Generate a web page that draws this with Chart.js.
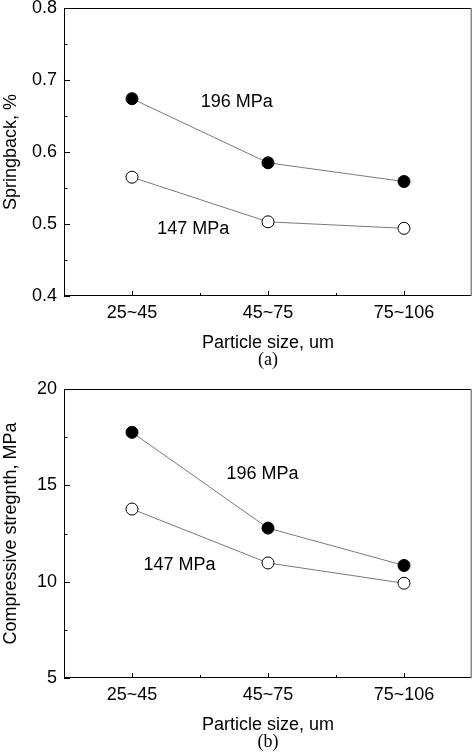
<!DOCTYPE html>
<html>
<head>
<meta charset="utf-8">
<script src="https://cdn.jsdelivr.net/npm/chart.js@4/dist/chart.umd.min.js"></script>
<style>
  html, body { margin: 0; padding: 0; background: #fff; }
  #wrap { position: relative; width: 473px; height: 753px; }
  #c1 { position: absolute; left: 0; top: 0; }
  #c2 { position: absolute; left: 0; top: 380px; }
</style>
</head>
<body>
<div id="wrap">
  <canvas id="c1" width="473" height="380"></canvas>
  <canvas id="c2" width="473" height="373"></canvas>
</div>
<script>
// ---- data ----
const categories = ['25~45', '45~75', '75~106'];
const seriesNames = ['196 MPa', '147 MPa'];
const springback196 = [0.674, 0.585, 0.559];
const springback147 = [0.565, 0.503, 0.494];
const strength196 = [17.75, 12.78, 10.84];
const strength147 = [13.77, 10.97, 9.92];
const springbackTicks = [0.4, 0.5, 0.6, 0.7, 0.8];
const strengthTicks = [5, 10, 15, 20];

// ---- label placement (in data units) ----
const springbackNotes = [
  { text: seriesNames[0], x: 0.77, y: 0.670 },
  { text: seriesNames[1], x: 0.45, y: 0.493 }
];
const strengthNotes = [
  { text: seriesNames[0], x: 0.96, y: 15.61 },
  { text: seriesNames[1], x: 0.35, y: 10.84 }
];

const SANS = '"Liberation Sans", Arial, Helvetica, sans-serif';
const SERIF = '"Liberation Serif", "Times New Roman", serif';

const framePlugin = {
  id: 'frame',
  afterDraw(chart, args, opts) {
    const { ctx, chartArea: a, scales } = chart;
    const xs = scales.x, ys = scales.y;
    ctx.save();
    ctx.lineWidth = 1;
    ctx.strokeStyle = '#000';
    ctx.beginPath();
    ctx.moveTo(a.left + 0.5, a.top + 0.5);
    ctx.lineTo(a.right, a.top + 0.5);
    ctx.moveTo(a.left + 0.5, a.top);
    ctx.lineTo(a.left + 0.5, a.bottom);
    ctx.moveTo(a.left, a.bottom - 0.5);
    ctx.lineTo(a.right, a.bottom - 0.5);
    const yt = opts.yTicks;
    for (let i = 0; i < yt.length; i++) {
      const py = Math.round(ys.getPixelForValue(yt[i])) + 0.5;
      ctx.moveTo(a.left, py); ctx.lineTo(a.left + 6, py);
      if (i < yt.length - 1) {
        const pm = Math.round(ys.getPixelForValue((yt[i] + yt[i + 1]) / 2)) + 0.5;
        ctx.moveTo(a.left, pm); ctx.lineTo(a.left + 3.5, pm);
      }
    }
    for (let i = 0; i < categories.length; i++) {
      const px = Math.round(xs.getPixelForValue(i)) + 0.5;
      ctx.moveTo(px, a.bottom); ctx.lineTo(px, a.bottom - 5);
      if (i < categories.length - 1) {
        const pm = Math.round(xs.getPixelForValue(i + 0.5)) + 0.5;
        ctx.moveTo(pm, a.bottom); ctx.lineTo(pm, a.bottom - 3);
      }
    }
    ctx.stroke();
    ctx.strokeStyle = '#8a8a8a';
    ctx.lineWidth = 1.5;
    ctx.beginPath();
    ctx.moveTo(a.right - 0.75, a.top);
    ctx.lineTo(a.right - 0.75, a.bottom);
    ctx.stroke();
    ctx.fillStyle = '#000';
    ctx.font = '18px ' + SANS;
    ctx.textAlign = 'center';
    ctx.textBaseline = 'middle';
    for (const n of opts.notes) {
      ctx.fillText(n.text, xs.getPixelForValue(n.x), ys.getPixelForValue(n.y));
    }
    ctx.restore();
  }
};

function makeChart(canvasId, s196, s147, yTicks, yTitle, tag, notes, padTop, tagPadBottom) {
  const yMin = yTicks[0], yMax = yTicks[yTicks.length - 1];
  const step = yTicks[1] - yTicks[0];
  return new Chart(document.getElementById(canvasId), {
    type: 'line',
    data: {
      labels: categories,
      datasets: [
        {
          label: seriesNames[0], data: s196,
          borderColor: '#7a7a7a', borderWidth: 1, tension: 0,
          pointRadius: 6, pointHoverRadius: 6, pointBorderWidth: 1,
          pointBorderColor: '#000', pointBackgroundColor: '#000'
        },
        {
          label: seriesNames[1], data: s147,
          borderColor: '#7a7a7a', borderWidth: 1, tension: 0,
          pointRadius: 6, pointHoverRadius: 6, pointBorderWidth: 1,
          pointBorderColor: '#000', pointBackgroundColor: '#fff'
        }
      ]
    },
    options: {
      responsive: false,
      animation: false,
      devicePixelRatio: 1,
      layout: { autoPadding: false, padding: { top: padTop, right: 1, left: 0, bottom: 0 } },
      plugins: {
        legend: { display: false },
        tooltip: { enabled: false },
        title: {
          display: true, text: tag, position: 'bottom', color: '#000', fullSize: false,
          font: { family: SERIF, size: 18, weight: 'normal', lineHeight: 1 },
          padding: { top: 0, bottom: tagPadBottom }
        },
        frame: { yTicks: yTicks, notes: notes }
      },
      scales: {
        x: {
          type: 'category', offset: true,
          grid: { display: false, drawTicks: false },
          border: { display: false },
          ticks: { color: '#000', font: { family: SANS, size: 18 }, padding: 6, maxRotation: 0, autoSkip: false },
          title: {
            display: true, text: 'Particle size, um', color: '#000',
            font: { family: SANS, size: 18, lineHeight: 1 },
            padding: { top: 0, bottom: -1 }
          },
          afterFit(s) { s.height = 55; s.paddingLeft = 0; s.paddingRight = 0; }
        },
        y: {
          type: 'linear', min: yMin, max: yMax,
          grid: { display: false, drawTicks: false },
          border: { display: false },
          afterBuildTicks(s) { s.ticks = yTicks.map(v => ({ value: v })); },
          ticks: {
            color: '#000', font: { family: SANS, size: 18 }, padding: 7,
            callback: v => (step < 1 ? Number(v).toFixed(1) : String(v))
          },
          title: {
            display: true, text: yTitle, color: '#000',
            font: { family: SANS, size: 18, lineHeight: 1.2 },
            padding: 0
          },
          afterFit(s) { s.width = 64; s.paddingTop = 0; s.paddingBottom = 0; }
        }
      }
    },
    plugins: [framePlugin]
  });
}

makeChart('c1', springback196, springback147, springbackTicks, 'Springback, %', '(a)', springbackNotes, 8, 11);
makeChart('c2', strength196, strength147, strengthTicks, 'Compressive stregnth, MPa', '(b)', strengthNotes, 9, 2);
</script>
</body>
</html>
